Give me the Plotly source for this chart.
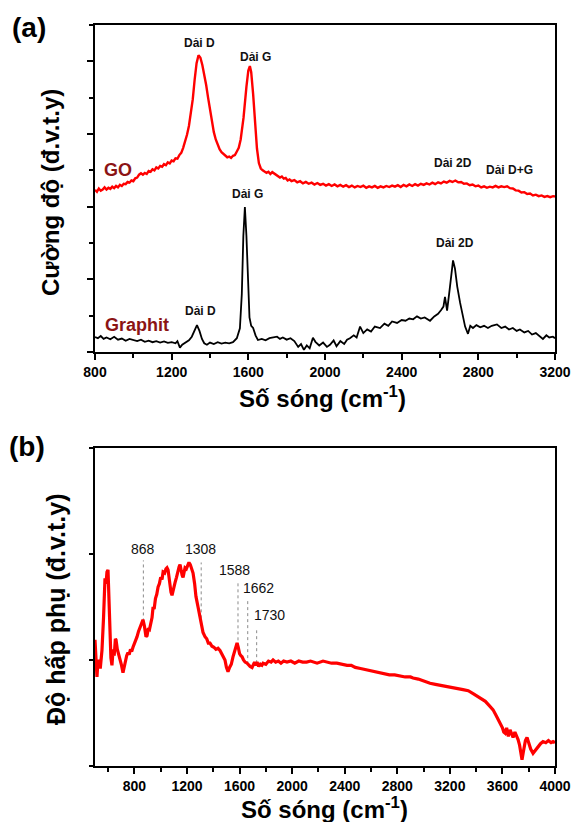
import numpy as np
import plotly.graph_objects as go

# ---------------- Raman spectra (a) ----------------
go_shift = [800, 810, 820, 830, 840, 850, 860, 870, 880, 890, 900, 910, 920, 930, 940, 950, 960, 970,
            980, 990, 1000, 1010, 1020, 1030, 1040, 1050, 1060, 1070, 1080, 1090, 1100, 1110, 1120,
            1130, 1140, 1150, 1160, 1170, 1180, 1190, 1200, 1210, 1220, 1230, 1240, 1250, 1260, 1270,
            1280, 1290, 1300, 1310, 1320, 1330, 1340, 1350, 1360, 1370, 1380, 1390, 1400, 1410, 1420,
            1430, 1440, 1450, 1460, 1470, 1480, 1490, 1500, 1510, 1520, 1530, 1540, 1550, 1560, 1575,
            1590, 1600, 1608, 1615, 1625, 1635, 1645, 1655, 1665, 1675, 1685, 1695, 1705, 1715, 1725,
            1735, 1745, 1755, 1765, 1775, 1785, 1795, 1805, 1815, 1825, 1840, 1855, 1870, 1885, 1900,
            1915, 1930, 1945, 1960, 1975, 1990, 2005, 2020, 2035, 2050, 2065, 2080, 2095, 2110, 2125,
            2140, 2155, 2170, 2185, 2200, 2215, 2230, 2245, 2260, 2275, 2290, 2305, 2320, 2335, 2350,
            2365, 2380, 2395, 2410, 2425, 2440, 2455, 2470, 2485, 2500, 2515, 2530, 2545, 2560, 2575,
            2590, 2605, 2620, 2635, 2650, 2665, 2680, 2695, 2710, 2725, 2740, 2755, 2770, 2785, 2800,
            2815, 2830, 2845, 2860, 2875, 2890, 2905, 2920, 2935, 2950, 2965, 2980, 2995, 3010, 3025,
            3040, 3055, 3070, 3085, 3100, 3115, 3130, 3145, 3160, 3175, 3190, 3200]
go_int = [4.46, 4.41, 4.50, 4.44, 4.47, 4.53, 4.47, 4.52, 4.49, 4.55, 4.51, 4.57, 4.53, 4.60, 4.57, 4.63, 4.62, 4.68,
          4.66, 4.72, 4.70, 4.78, 4.80, 4.88, 4.92, 4.88, 4.93, 4.90, 4.98, 4.96, 5.03, 5.00, 5.08,
          5.05, 5.12, 5.10, 5.17, 5.14, 5.22, 5.19, 5.27, 5.25, 5.33, 5.32, 5.42, 5.48, 5.62, 5.78,
          5.98, 6.22, 6.55, 6.95, 7.50, 7.95, 8.17, 8.10, 7.90, 7.65, 7.35, 7.00, 6.65, 6.35, 6.05,
          5.85, 5.70, 5.58, 5.50, 5.45, 5.42, 5.36, 5.38, 5.34, 5.40, 5.42, 5.52, 5.62, 5.85, 6.45,
          7.30, 7.75, 7.87, 7.70, 7.10, 6.30, 5.60, 5.20, 5.05, 5.00, 4.96, 4.93, 4.96, 4.90, 4.95,
          4.91, 4.87, 4.85, 4.80, 4.83, 4.77, 4.79, 4.72, 4.75, 4.70, 4.73, 4.67, 4.70, 4.64, 4.68,
          4.63, 4.66, 4.61, 4.65, 4.60, 4.63, 4.58, 4.62, 4.57, 4.61, 4.56, 4.60, 4.55, 4.59, 4.54,
          4.58, 4.53, 4.57, 4.54, 4.58, 4.52, 4.56, 4.53, 4.57, 4.52, 4.56, 4.53, 4.57, 4.54, 4.58,
          4.55, 4.59, 4.54, 4.60, 4.56, 4.61, 4.57, 4.62, 4.58, 4.63, 4.60, 4.64, 4.61, 4.66, 4.62,
          4.67, 4.64, 4.69, 4.66, 4.71, 4.68, 4.72, 4.67, 4.68, 4.63, 4.64, 4.59, 4.61, 4.56, 4.58,
          4.53, 4.56, 4.52, 4.55, 4.53, 4.57, 4.53, 4.56, 4.54, 4.56, 4.51, 4.50, 4.45, 4.44, 4.39,
          4.40, 4.35, 4.36, 4.31, 4.33, 4.29, 4.31, 4.27, 4.29, 4.26, 4.29, 4.28]

gr_shift = [800, 815, 830, 845, 860, 880, 900, 920, 940, 960, 980, 1000, 1020, 1040, 1060, 1080,
            1100, 1120, 1140, 1160, 1180, 1200, 1220, 1230, 1243, 1255, 1270, 1290, 1305, 1320,
            1332, 1345, 1358, 1370, 1384, 1400, 1420, 1440, 1460, 1480, 1500, 1520, 1540, 1556,
            1566, 1574, 1582, 1590, 1598, 1606, 1615, 1625, 1638, 1650, 1670, 1690, 1710, 1730,
            1750, 1765, 1780, 1800, 1820, 1840, 1860, 1875, 1890, 1905, 1920, 1937, 1950, 1970,
            1990, 2010, 2026, 2045, 2060, 2080, 2100, 2115, 2130, 2150, 2165, 2183, 2200, 2220,
            2240, 2260, 2287, 2310, 2330, 2350, 2376, 2400, 2420, 2440, 2460, 2480, 2500, 2520,
            2548, 2570, 2590, 2605, 2618, 2626, 2637, 2650, 2660, 2668, 2678, 2690, 2705, 2718,
            2731, 2746, 2758, 2772, 2790, 2810, 2830, 2850, 2870, 2897, 2920, 2940, 2960, 2980,
            3000, 3017, 3040, 3060, 3080, 3100, 3120, 3137, 3155, 3170, 3189, 3200]
gr_int = [0.41, 0.38, 0.44, 0.36, 0.40, 0.35, 0.42, 0.34, 0.37, 0.31, 0.36, 0.33, 0.30, 0.34, 0.28, 0.31,
          0.27, 0.30, 0.26, 0.29, 0.25, 0.27, 0.24, 0.30, 0.12, 0.20, 0.26, 0.32, 0.42, 0.62,
          0.74, 0.58, 0.36, 0.24, 0.20, 0.26, 0.22, 0.27, 0.23, 0.26, 0.24, 0.27, 0.38, 0.65,
          1.60, 3.20, 3.99, 3.20, 1.80, 0.95, 0.72, 0.66, 0.45, 0.33, 0.36, 0.32, 0.38, 0.40,
          0.42, 0.36, 0.40, 0.34, 0.38, 0.30, 0.14, 0.22, 0.06, 0.18, 0.10, 0.39, 0.28, 0.18,
          0.26, 0.14, 0.20, 0.32, 0.16, 0.30, 0.22, 0.34, 0.38, 0.46, 0.40, 0.70, 0.52, 0.62,
          0.56, 0.70, 0.66, 0.78, 0.72, 0.84, 0.80, 0.88, 0.86, 0.92, 0.90, 0.98, 0.92, 0.95,
          0.86, 0.98, 1.05, 1.15, 1.25, 1.52, 1.14, 1.70, 2.25, 2.52, 2.30, 1.80, 1.35, 1.00,
          0.70, 0.50, 0.72, 0.66, 0.74, 0.68, 0.72, 0.66, 0.72, 0.76, 0.66, 0.70, 0.62, 0.66,
          0.58, 0.62, 0.54, 0.58, 0.48, 0.52, 0.44, 0.36, 0.46, 0.40, 0.42, 0.38]

# ---------------- IR absorption spectrum (b) ----------------
ir_wn = [500, 508, 515, 522, 530, 540, 553, 565, 576, 584, 591, 599, 607, 614, 621, 629, 638, 646,
         655, 660, 670, 680, 690, 700, 713, 722, 732, 741, 751, 760, 770, 779, 789, 800, 810, 820,
         831, 842, 852, 865, 876, 888, 896, 906, 915, 925, 934, 942, 950, 960, 970, 980, 990, 1000,
         1010, 1018, 1030, 1040, 1048, 1056, 1066, 1078, 1086, 1096, 1109, 1120, 1130, 1140, 1147,
         1155, 1163, 1170, 1178, 1185, 1195, 1205, 1215, 1225, 1235, 1246, 1258, 1268, 1284, 1299,
         1310, 1322, 1337, 1350, 1362, 1375, 1390, 1405, 1420, 1436, 1451, 1465, 1478, 1489, 1500,
         1512, 1524, 1537, 1550, 1562, 1572, 1581, 1590, 1600, 1610, 1619, 1630, 1642, 1657, 1668,
         1680, 1695, 1705, 1714, 1724, 1733, 1745, 1758, 1770, 1779, 1800, 1820, 1840, 1855, 1875,
         1895, 1915, 1935, 1961, 1990, 2020, 2050, 2080, 2110, 2140, 2159, 2190, 2235, 2270, 2300,
         2340, 2380, 2418, 2450, 2480, 2520, 2560, 2600, 2640, 2669, 2700, 2740, 2780, 2820, 2860,
         2900, 2920, 2960, 3000, 3049, 3090, 3140, 3180, 3220, 3260, 3300, 3340, 3380, 3430, 3470,
         3500, 3529, 3555, 3582, 3600, 3610, 3620, 3632, 3645, 3658, 3670, 3681, 3695, 3710, 3719,
         3730, 3740, 3749, 3760, 3775, 3787, 3800, 3815, 3833, 3850, 3871, 3890, 3909, 3930, 3950,
         3970, 3985, 4000]
ir_abs = [1.19, 0.95, 0.84, 0.98, 1.00, 0.92, 1.09, 1.40, 1.77, 1.72, 1.83, 1.85, 1.50, 1.16, 1.02, 0.95, 1.10, 1.04,
          1.20, 1.19, 1.10, 1.05, 1.03, 0.96, 0.88, 0.94, 1.00, 1.04, 1.07, 1.05, 1.10, 1.08, 1.12, 1.15, 1.18, 1.22,
          1.27, 1.31, 1.34, 1.38, 1.32, 1.22, 1.23, 1.30, 1.29, 1.35, 1.40, 1.50, 1.48, 1.58, 1.62, 1.69, 1.72, 1.78,
          1.76, 1.83, 1.82, 1.86, 1.87, 1.85, 1.72, 1.64, 1.61, 1.68, 1.73, 1.78, 1.84, 1.88, 1.90,
          1.84, 1.80, 1.78, 1.84, 1.87, 1.86, 1.90, 1.92, 1.90, 1.86, 1.82, 1.72, 1.60, 1.50, 1.41,
          1.32, 1.26, 1.22, 1.20, 1.16, 1.16, 1.13, 1.12, 1.10, 1.11, 1.09, 1.05, 1.03, 1.00, 0.93,
          0.89, 0.93, 0.96, 1.03, 1.08, 1.14, 1.16, 1.12, 1.06, 1.04, 1.03, 1.00, 0.98, 0.97, 0.95,
          0.94, 0.93, 0.95, 0.98, 0.95, 0.98, 0.94, 0.96, 0.95, 0.97, 0.96, 0.99, 0.98, 1.00, 0.98,
          0.99, 0.97, 0.99, 0.98, 0.99, 0.97, 0.99, 0.98, 0.98, 0.99, 0.98, 0.97, 0.99, 0.98, 0.97,
          0.97, 0.96, 0.95, 0.95, 0.93, 0.92, 0.91, 0.90, 0.89, 0.88, 0.87, 0.86, 0.86, 0.85, 0.84,
          0.84, 0.83, 0.82, 0.80, 0.78, 0.77, 0.76, 0.75, 0.74, 0.73, 0.72, 0.71, 0.68, 0.64, 0.61,
          0.57, 0.53, 0.47, 0.41, 0.36, 0.32, 0.31, 0.36, 0.28, 0.34, 0.30, 0.27, 0.32, 0.28, 0.25,
          0.20, 0.12, 0.06, 0.14, 0.24, 0.27, 0.22, 0.16, 0.12, 0.15, 0.18, 0.21, 0.23, 0.22, 0.24,
          0.22, 0.23, 0.22]

ir_peaks = [868, 1308, 1588, 1662, 1730]
ir_peak_labels = ["868", "1308", "1588", "1662", "1730"]

x_ticks_a = [800, 1200, 1600, 2000, 2400, 2800, 3200]
x_ticks_b = [800, 1200, 1600, 2000, 2400, 2800, 3200, 3600, 4000]

FONT = "Arial, Liberation Sans, sans-serif"
W, H = 573, 822


def px_x(p):
    return p / W


def px_y(p):
    return 1 - p / H


fig = go.Figure()
fig.add_trace(go.Scatter(x=go_shift, y=go_int, mode="lines", line=dict(color="#ff0000", width=2.4),
                         xaxis="x", yaxis="y", showlegend=False))
fig.add_trace(go.Scatter(x=gr_shift, y=gr_int, mode="lines", line=dict(color="#000000", width=1.8),
                         xaxis="x", yaxis="y", showlegend=False))
fig.add_trace(go.Scatter(x=ir_wn, y=ir_abs, mode="lines", line=dict(color="#ff0000", width=3.2),
                         xaxis="x2", yaxis="y2", showlegend=False))

xdom = [px_x(95), px_x(555)]
axis_common = dict(showline=True, linecolor="black", linewidth=2, mirror=True,
                   ticks="outside", tickcolor="black", tickwidth=1.5, ticklen=6,
                   showgrid=False, zeroline=False, automargin=False)

fig.update_layout(
    width=W, height=H, margin=dict(l=0, r=0, t=0, b=0, pad=0, autoexpand=False),
    paper_bgcolor="white", plot_bgcolor="white",
    font=dict(family=FONT, color="black"),
    xaxis=dict(domain=xdom, anchor="y", range=[800, 3200], tickvals=x_ticks_a,
               minor=dict(dtick=200, tick0=800, ticks="outside", ticklen=4, tickwidth=1.5, tickcolor="black"),
               tickfont=dict(size=14, weight="bold"), **axis_common),
    yaxis=dict(domain=[px_y(352), px_y(25)], anchor="x", range=[0, 9], tick0=0, dtick=2,
               showticklabels=False,
               minor=dict(dtick=1, tick0=0, ticks="outside", ticklen=4, tickwidth=1.5, tickcolor="black"),
               **axis_common),
    xaxis2=dict(domain=xdom, anchor="y2", range=[500, 4000], tickvals=x_ticks_b,
                minor=dict(dtick=200, tick0=600, ticks="outside", ticklen=4, tickwidth=1.5, tickcolor="black"),
                tickfont=dict(size=14, weight="bold"), **axis_common),
    yaxis2=dict(domain=[px_y(766), px_y(448)], anchor="x2", range=[0, 3], tick0=0, dtick=1,
                showticklabels=False, **{**axis_common, "ticklen": 4}),
)

ann = []
# panel letters
ann.append(dict(text="<b>(a)</b>", xref="paper", yref="paper", x=px_x(29), y=px_y(28),
                showarrow=False, font=dict(size=28, family=FONT), xanchor="center", yanchor="middle"))
ann.append(dict(text="<b>(b)</b>", xref="paper", yref="paper", x=px_x(27), y=px_y(447),
                showarrow=False, font=dict(size=28, family=FONT), xanchor="center", yanchor="middle"))
# axis titles
title_x = "<b>Số sóng (cm<sup>-1</sup>)</b>"
ann.append(dict(text=title_x, xref="paper", yref="paper", x=px_x(322), y=px_y(397),
                showarrow=False, font=dict(size=24, family=FONT), xanchor="center", yanchor="middle"))
ann.append(dict(text=title_x, xref="paper", yref="paper", x=px_x(324), y=px_y(808),
                showarrow=False, font=dict(size=24, family=FONT), xanchor="center", yanchor="middle"))
ann.append(dict(text="<b>Cường độ (đ.v.t.y)</b>", xref="paper", yref="paper", x=px_x(50), y=px_y(193),
                showarrow=False, textangle=-90, font=dict(size=24, family=FONT),
                xanchor="center", yanchor="middle"))
ann.append(dict(text="<b>Độ hấp phụ (đ.v.t.y)</b>", xref="paper", yref="paper", x=px_x(56), y=px_y(610),
                showarrow=False, textangle=-90, font=dict(size=25, family=FONT),
                xanchor="center", yanchor="middle"))

# band labels, panel (a)
band_labels = [
    ("Dải D", 1343, 8.50), ("Dải G", 1635, 8.12), ("Dải 2D", 2668, 5.20), ("Dải D+G", 2965, 5.00),
    ("Dải G", 1598, 4.35), ("Dải D", 1348, 1.13), ("Dải 2D", 2678, 3.00),
]
for txt, xv, yv in band_labels:
    ann.append(dict(text=f"<b>{txt}</b>", xref="x", yref="y", x=xv, y=yv, showarrow=False,
                    font=dict(size=12, family=FONT, color="#111111"), xanchor="center", yanchor="middle"))
ann.append(dict(text="<b>GO</b>", xref="x", yref="y", x=920, y=5.0, showarrow=False,
                font=dict(size=18, family=FONT, color="#8b1414"), xanchor="center", yanchor="middle"))
ann.append(dict(text="<b>Graphit</b>", xref="x", yref="y", x=1019, y=0.74, showarrow=False,
                font=dict(size=18, family=FONT, color="#8b1414"), xanchor="center", yanchor="middle"))

# peak markers, panel (b)
label_y = [2.05, 2.05, 1.85, 1.68, 1.42]
line_top = [1.94, 1.92, 1.74, 1.58, 1.28]
label_shift = [0, -1, -3, 11, 13]
shapes = []
for pk, lab, ly, lt, sh in zip(ir_peaks, ir_peak_labels, label_y, line_top, label_shift):
    bottom = float(np.interp(pk, ir_wn, ir_abs))
    shapes.append(dict(type="line", xref="x2", yref="y2", x0=pk, x1=pk, y0=bottom, y1=lt,
                       line=dict(color="#8a8a8a", width=1, dash="dot"), layer="below"))
    ann.append(dict(text=lab, xref="x2", yref="y2", x=pk, y=ly, xshift=sh, showarrow=False,
                    font=dict(size=14, family=FONT, color="#111111"), xanchor="center", yanchor="middle"))

fig.update_layout(annotations=ann, shapes=shapes)
fig.write_html("out.html")
